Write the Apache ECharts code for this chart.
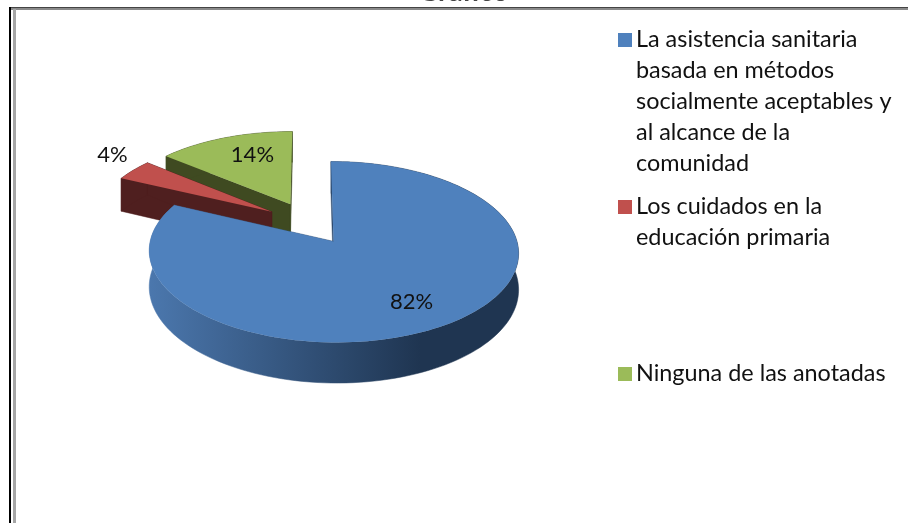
<!DOCTYPE html>
<html>
<head>
<meta charset="utf-8">
<style>html,body{margin:0;padding:0;background:#fff}#chart{width:908px;height:523px}</style>
<script src="https://cdn.jsdelivr.net/npm/echarts@6/dist/echarts.min.js"></script>
</head>
<body>
<div id="chart"></div>
<script>
// Survey shares, in percent, in clockwise order from twelve o'clock
const categories = [
  'La asistencia sanitaria\nbasada en métodos\nsocialmente aceptables y\nal alcance de la\ncomunidad',
  'Los cuidados en la\neducación primaria',
  'Ninguna de las anotadas'
];
const shares = [82, 4, 14];
const topColors = ['#4f81bd', '#c0504d', '#9bbb59'];
const wallColors = ['#1f3551', '#4f1f1f', '#3f4a21'];
const paintLayers = [3, 2, 1];
const legendRows = [39, 206, 373];
const chartTitle = 'Gráfico';

const FONT = 'Lato, "Open Sans", sans-serif';
const CX = 309, CY = 223, RX = 179, RY = 85, TILT = 0.114, EXPLODE = 0.25, DEPTH = 35;
// Where each percentage sits: radius along the slice's mid-angle, then a small pixel nudge
const LABEL_RADII = [0.83, 1.17, 0.6];
const LABEL_NUDGE = [[-13, -8], [1, -9], [3, -8]];

// Perspective projection of a point on the pie's unit disk
function project(u, v) {
  const d = 1 - TILT * v;
  return [CX + RX * u / d, CY + RY * v / d, DEPTH / d];
}

function sliceOutline(startDeg, endDeg) {
  const mid = (startDeg + endDeg) / 2 * Math.PI / 180;
  const ou = EXPLODE * Math.sin(mid), ov = -EXPLODE * Math.cos(mid);
  const apex = project(ou, ov);
  const arc = [];
  const steps = Math.ceil((endDeg - startDeg) / 2);
  for (let i = 0; i <= steps; i++) {
    const a = (startDeg + (endDeg - startDeg) * i / steps) * Math.PI / 180;
    arc.push(project(ou + Math.sin(a), ov - Math.cos(a)));
  }
  return { apex, arc, ou, ov, mid };
}

// A wall is an outline run swept straight down by the slice depth
function wall(run, fill) {
  const upper = run.map(p => [p[0], p[1]]);
  const lower = run.map(p => [p[0], p[1] + p[2]]).reverse();
  return {
    type: 'polygon',
    shape: { points: upper.concat(lower) },
    style: { fill: fill, stroke: fill, lineWidth: 0.5 }
  };
}

function renderSlice(index) {
  return function (params, api) {
    const value = api.value(0);
    const before = shares.slice(0, index).reduce((s, x) => s + x, 0);
    const o = sliceOutline(before * 3.6, (before + value) * 3.6);
    const wallFill = index === 0
      ? new echarts.graphic.LinearGradient(150, 0, 420, 0, [
          { offset: 0, color: '#4b77ad' },
          { offset: 1, color: '#1f3551' }
        ], true)
      : wallColors[index];
    const children = [
      wall([o.apex, o.arc[0]], wallFill),
      wall([o.arc[o.arc.length - 1], o.apex], wallFill),
      wall(o.arc, wallFill),
      {
        type: 'polygon',
        shape: { points: [o.apex].concat(o.arc).map(p => [p[0], p[1]]) },
        style: { fill: topColors[index] }
      }
    ];
    const r = LABEL_RADII[index];
    const lp = project(o.ou + r * Math.sin(o.mid), o.ov - r * Math.cos(o.mid));
    children.push({
      type: 'text',
      style: {
        x: lp[0] + LABEL_NUDGE[index][0], y: lp[1] + LABEL_NUDGE[index][1],
        text: value + '%', fill: '#111',
        font: '22px ' + FONT, align: 'center', verticalAlign: 'middle'
      }
    });
    return { type: 'group', children };
  };
}

const legendGraphics = [];
categories.forEach((name, i) => {
  legendGraphics.push({
    type: 'rect', left: 618, top: legendRows[i] - 6,
    shape: { width: 14, height: 14 }, style: { fill: topColors[i] }
  });
  legendGraphics.push({
    type: 'text', left: 636, top: legendRows[i] - 15,
    style: { text: name, fill: '#111', font: '23.4px ' + FONT, lineHeight: 31 }
  });
});

const chart = echarts.init(document.getElementById('chart'), null, { renderer: 'canvas' });
chart.setOption({
  animation: false,
  backgroundColor: '#fff',
  title: {
    text: chartTitle, left: 413, top: -27,
    textStyle: { fontSize: 28, fontWeight: 'bold', color: '#444', fontFamily: FONT }
  },
  graphic: [
    // Double frame along the top and left edges
    { type: 'rect', left: 9, top: 7, shape: { width: 899, height: 1 }, style: { fill: '#444' } },
    { type: 'rect', left: 9, top: 8, shape: { width: 899, height: 2 }, style: { fill: '#8a8a8a' } },
    { type: 'rect', left: 9, top: 7, shape: { width: 2, height: 516 }, style: { fill: '#000' } },
    { type: 'rect', left: 13, top: 9, shape: { width: 3, height: 514 }, style: { fill: '#a6a6a6' } }
  ].concat(legendGraphics),
  series: categories.map((name, i) => ({
    type: 'custom',
    name: name,
    coordinateSystem: 'none',
    z: paintLayers[i],
    silent: true,
    data: [[shares[i]]],
    renderItem: renderSlice(i)
  }))
});
</script>
</body>
</html>
